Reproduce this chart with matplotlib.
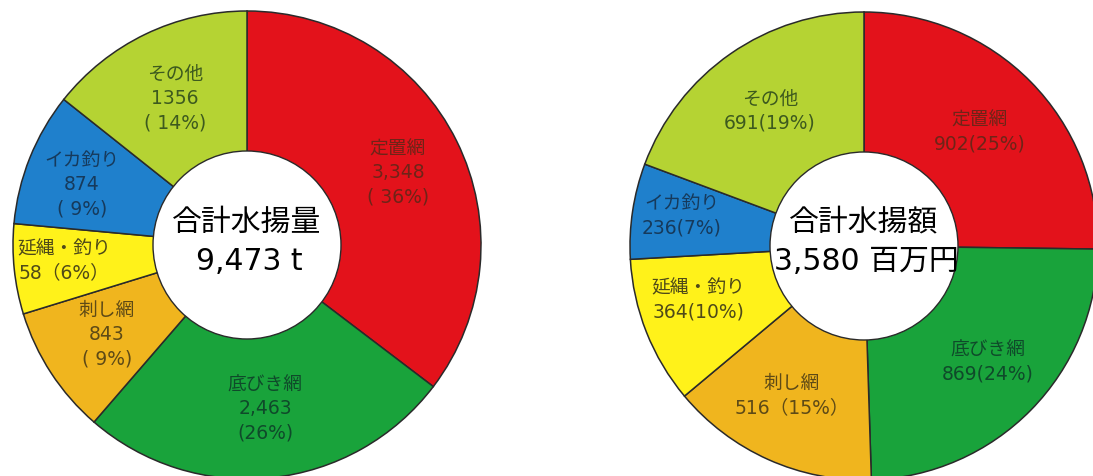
import matplotlib
matplotlib.use("Agg")
import matplotlib.pyplot as plt
from matplotlib.patches import Circle

# DejaVu first for the wide digits, Japanese falls through to Noto
plt.rcParams['font.family'] = ['DejaVu Sans', 'Noto Sans CJK JP']

W, H = 1093, 476

# 漁法別 水揚量 (t) と 水揚額 (百万円)
gyoho = ['定置網', '底びき網', '刺し網', '延縄・釣り', 'イカ釣り', 'その他']
ryo = [3348, 2463, 843, 589, 874, 1356]
ryo_labels = ['定置網\n3,348\n( 36%)', '底びき網\n2,463\n(26%)', '刺し網\n843\n( 9%)',
              '延縄・釣り\n58（6%）', 'イカ釣り\n874\n( 9%)', 'その他\n1356\n( 14%)']
gaku = [902, 869, 516, 364, 236, 691]
gaku_labels = ['定置網\n902(25%)', '底びき網\n869(24%)', '刺し網\n516（15%）',
               '延縄・釣り\n364(10%)', 'イカ釣り\n236(7%)', 'その他\n691(19%)']

colors = ['#e3121b', '#19a33b', '#f0b51e', '#fff21a', '#1f80cc', '#b5d333']
text_colors = ['#6e2418', '#0f4a2a', '#5e4a16', '#4f4a18', '#163a5c', '#3d5a1e']

# label positions in pixels (from top-left)
ryo_pos = [(398, 173), (265, 409), (107, 335), (64, 261), (82, 185), (175, 99)]
gaku_pos = [(980, 132), (988, 362), (792, 396), (698, 300), (682, 216), (770, 111)]

fig = plt.figure(figsize=(W / 100, H / 100), dpi=100)
ax = fig.add_axes([0, 0, 1, 1])


def donut(vals, labels, pos, cx, cy, r, title, total):
    ax.pie(vals, colors=colors, startangle=90, counterclock=False,
           center=(cx, H - cy), radius=r, frame=True,
           wedgeprops=dict(edgecolor='#2a2a2a', linewidth=1.1))
    for lab, (x, y), tc in zip(labels, pos, text_colors):
        ax.text(x, H - y, lab, ha='center', va='center', fontsize=13.5,
                color=tc, linespacing=1.35)
    ax.add_patch(Circle((cx, H - cy), 94, facecolor='white',
                        edgecolor='#2a2a2a', linewidth=1.0, zorder=5))
    ax.text(cx, H - 222, title, ha='center', va='center', fontsize=21.5,
            color='black', zorder=6)
    ax.text(cx + 2, H - 262, total, ha='center', va='center', fontsize=21.5,
            color='black', zorder=6)


donut(ryo, ryo_labels, ryo_pos, 247, 245, 234, '合計水揚量', '9,473 t')
donut(gaku, gaku_labels, gaku_pos, 864, 246, 234, '合計水揚額', '3,580 百万円')

ax.set_xlim(0, W)
ax.set_ylim(0, H)
ax.set_aspect('equal')
ax.axis('off')

fig.savefig('out.png', dpi=100, facecolor='white')
